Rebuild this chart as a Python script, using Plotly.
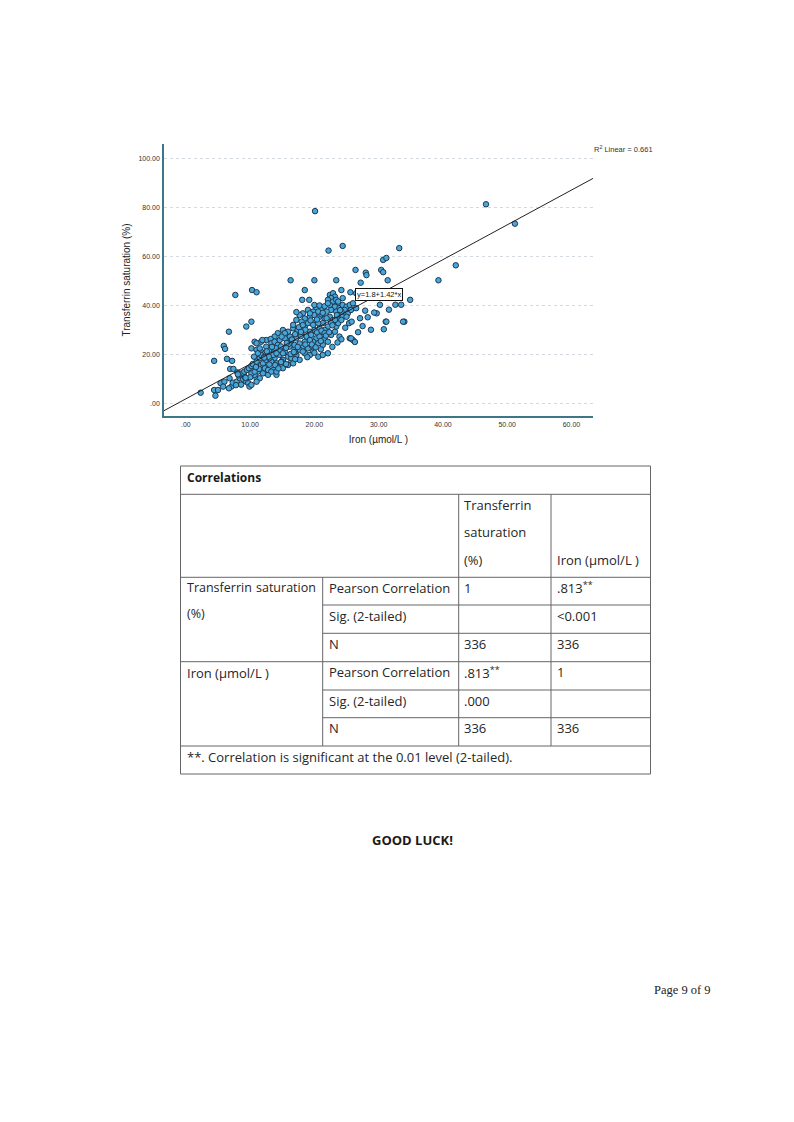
import plotly.graph_objects as go

# scatter data read from the page: iron (umol/L) vs transferrin saturation (%)
iron = [
    20.1, 22.2, 24.4, 33.2, 7.7, 10.3, 11.0, 16.3, 20.0, 18.5, 23.4, 24.2, 26.4, 28.0, 28.1,
    27.2, 25.6, 30.4, 30.7, 30.7, 31.2, 31.4, 46.7, 51.2, 42.0, 39.3, 34.9, 32.6, 33.5, 31.6,
    31.1, 30.8, 34.0, 30.2, 18.1, 19.2,
    22.4, 22.9, 23.2, 22.6, 22.1, 22.9, 23.4, 23.7, 22.4, 23.2, 23.9, 24.4, 25.0, 25.5, 24.7,
    24.2, 23.4, 22.6, 21.9, 21.1, 20.3, 19.8, 19.0, 18.2, 17.7, 18.5, 19.3, 20.0, 20.8, 21.6,
    22.4, 22.9, 23.7, 24.4, 25.2, 25.7, 26.5, 27.1, 28.3, 29.7,
    26.5, 23.7, 24.4, 26.0, 25.0, 25.4, 25.8, 23.9, 24.2, 25.5, 26.0,
    22.6, 23.2, 23.4, 23.7, 24.2, 23.2, 22.6, 22.1, 21.6,
    21.1, 20.6, 19.3, 20.3, 21.3, 20.8, 20.0, 19.3, 18.5,
    18.0, 18.8, 19.5, 20.3, 20.8, 21.6, 22.1, 21.3, 20.6, 19.8,
    15.1, 15.9, 16.7, 17.4, 14.3, 13.8, 14.6, 15.4, 16.2,
    18.2, 19.0, 19.8, 19.3, 18.5, 17.7, 16.9,
    15.4, 14.6, 13.8, 13.3, 14.1, 15.1, 15.9, 16.4,
    20.6, 21.3, 22.1,
    20.0, 20.8, 21.6, 22.1, 17.2, 17.2, 18.0, 16.7, 17.6, 18.2, 19.0, 19.8, 20.6, 21.9,
    10.2, 15.4, 14.9, 10.7, 11.7, 12.5, 13.2,
    16.4, 17.2, 17.9, 20.4, 21.1, 21.6, 20.8, 19.3, 18.5, 17.7, 16.9, 16.1,
    10.2, 11.0, 11.7, 12.3, 13.0, 13.8, 14.6, 15.1, 18.2,
    16.4, 17.2, 17.7, 14.9,
    11.0, 11.7, 12.5, 10.4, 11.2, 12.0, 12.8, 13.6, 14.3, 15.1, 15.9, 16.7,
    14.1, 11.0, 10.7, 10.2,
    5.9, 6.1, 4.4, 6.4, 7.2, 6.9, 7.4, 2.3, 4.4, 5.0, 4.6, 5.4, 6.0, 5.8, 7.1, 7.3, 7.9,
    8.4, 8.9, 9.1, 9.4, 9.7, 8.7, 9.1, 9.5, 9.8, 10.2, 10.4, 10.7,
    11.0, 11.5, 11.7, 11.2, 12.0, 12.5, 13.0, 13.6, 14.1, 12.3, 12.8, 13.3, 14.1,
    11.5, 11.0, 9.9, 10.2, 12.5, 13.3, 13.8, 14.3, 11.9, 11.0, 11.5,
    6.7, 9.4, 6.8, 6.7,
    31.2, 33.8, 25.7, 26.3, 27.5, 28.8, 29.3, 27.9, 26.8, 24.8,
    19.6, 21.0, 22.8, 23.6, 17.0, 16.0, 15.6, 13.0, 12.2, 8.2, 9.2, 8.0, 10.6,
    12.9, 13.9, 14.8, 15.6, 16.3, 17.0, 17.4, 18.6, 19.6, 20.2, 21.0, 21.8, 22.3, 22.8,
    23.5, 24.0, 21.3, 20.4, 19.4, 18.6, 17.9, 17.0, 16.5, 15.7, 14.8, 14.0, 13.4, 12.6,
    12.2, 11.4, 10.9, 10.0, 9.3, 8.6, 7.8, 8.1, 16.8, 18.9, 20.0, 14.4,
]
tsat = [
    78.4, 62.3, 64.2, 63.3, 44.2, 46.2, 45.3, 50.2, 50.2, 46.2, 50.2, 46.2, 54.4, 53.3, 52.3,
    49.2, 45.3, 54.4, 53.5, 58.5, 59.3, 50.2, 81.2, 73.3, 56.3, 50.2, 42.2, 40.2, 40.2, 38.2,
    33.3, 30.2, 33.3, 40.2, 42.2, 42.2,
    44.2, 44.9, 43.5, 42.9, 42.2, 41.5, 42.2, 40.8, 40.1, 39.4, 38.8, 40.1, 39.4, 40.1, 38.1,
    37.4, 37.4, 38.1, 37.4, 38.1, 38.8, 37.4, 38.1, 36.7, 36.0, 34.6, 35.3, 36.0, 35.3, 34.6,
    35.3, 34.0, 34.6, 35.3, 36.7, 38.1, 38.8, 34.7, 35.1, 36.7,
    44.9, 41.5, 42.9, 40.8, 35.3, 32.7, 33.3, 27.2, 26.1, 26.5, 25.8,
    27.9, 29.2, 31.3, 32.7, 34.0, 34.0, 32.7, 31.3, 29.9,
    36.3, 37.4, 36.7, 33.3, 32.7, 30.6, 29.9, 29.2, 31.3,
    28.6, 27.2, 27.9, 26.5, 28.6, 26.5, 25.1, 23.8, 24.5, 25.1,
    29.9, 29.2, 30.6, 29.9, 28.6, 27.2, 25.8, 26.5, 27.2,
    23.1, 22.4, 21.1, 19.7, 20.4, 21.8, 22.4,
    21.1, 19.7, 18.4, 17.0, 16.3, 17.7, 19.0, 17.0,
    19.0, 19.7, 20.4,
    40.1, 39.9, 39.6, 40.8, 37.2, 34.0, 33.3, 32.0, 31.0, 31.9, 32.7, 32.0, 32.7, 34.7,
    33.3, 28.6, 27.2, 25.1, 25.1, 25.8, 26.2,
    25.8, 26.5, 27.4, 28.9, 29.6, 28.6, 27.2, 25.8, 25.1, 24.4, 23.8, 23.1,
    22.4, 21.8, 21.1, 20.4, 21.8, 21.1, 21.8, 20.4, 21.1,
    18.4, 19.7, 17.7, 17.0,
    16.3, 15.6, 14.9, 13.6, 12.9, 12.2, 11.6, 13.6, 14.9, 14.3, 15.6, 16.3,
    11.6, 10.2, 11.6, 12.2,
    23.4, 22.2, 17.3, 18.1, 17.3, 14.0, 14.0, 4.3, 5.4, 5.4, 3.1, 8.2, 8.8, 6.8, 6.8, 8.4, 8.8,
    10.2, 9.8, 11.1, 8.8, 8.2, 12.2, 12.9, 13.6, 14.3, 15.2, 16.0, 12.9,
    17.0, 18.4, 19.7, 20.4, 16.3, 17.7, 18.4, 19.7, 20.4, 14.3, 13.6, 12.9, 12.9,
    10.2, 8.8, 6.8, 7.5, 23.1, 24.5, 25.1, 23.8, 25.8, 24.5, 22.4,
    29.2, 31.3, 10.2, 6.1,
    33.3, 33.3, 26.5, 25.0, 31.5, 30.0, 37.0, 37.8, 29.0, 30.8,
    23.5, 22.0, 23.0, 24.8, 20.8, 24.2, 22.6, 15.8, 18.9, 11.4, 10.6, 12.6, 19.0,
    19.0, 15.6, 16.8, 16.0, 20.1, 18.0, 23.0, 24.0, 24.0, 22.8, 25.4, 27.6, 29.0, 31.8,
    36.0, 38.0, 36.9, 34.2, 33.8, 30.0, 29.1, 28.2, 26.0, 24.6, 23.2, 22.5, 23.0, 21.2,
    18.6, 14.0, 14.8, 10.6, 10.4, 7.6, 7.4, 11.8, 20.9, 18.8, 20.6, 14.2,
]

# fit line from the chart
intercept = 1.8
slope = 1.42
x_range = [-3.4, 63.35]
y_range = [-5.2, 105.8]

x_ticks = [0, 10, 20, 30, 40, 50, 60]
x_tick_labels = [".00", "10.00", "20.00", "30.00", "40.00", "50.00", "60.00"]
y_ticks = [0, 20, 40, 60, 80, 100]
y_tick_labels = [".00", "20.00", "40.00", "60.00", "80.00", "100.00"]

# correlations table
table_title = "Correlations"
head_tsat = ["Transferrin", "saturation", "(%)"]
head_iron = "Iron (µmol/L )"
row_groups = [["Transferrin", "saturation", "(%)"], ["Iron (µmol/L )"]]
stat_labels = ["Pearson Correlation", "Sig. (2-tailed)", "N"]
col_tsat = ["1", "", "336", ".813<sup>**</sup>", ".000", "336"]
col_iron = [".813<sup>**</sup>", "<0.001", "336", "1", "", "336"]
footnote = "**. Correlation is significant at the 0.01 level (2-tailed)."

# the page body has an 8px margin, so the figure is a bit smaller and shifted
OFF = 8
W, H = 794 - OFF, 1122 - 2 * OFF


def px(x):
    return (x - OFF) / W


def py(y):
    return 1 - (y - OFF) / H


fig = go.Figure()

fig.add_trace(go.Scatter(
    x=iron, y=tsat, mode="markers",
    marker=dict(size=5.5, color="#49a6d9", line=dict(color="#1d3850", width=1)),
    showlegend=False, hoverinfo="x+y",
))
fig.add_trace(go.Scatter(
    x=x_range, y=[intercept + slope * v for v in x_range], mode="lines",
    line=dict(color="#222222", width=1), showlegend=False, hoverinfo="skip",
))

axis_font = dict(family="Liberation Sans, Arial", size=7, color="#333333")
fig.update_xaxes(
    domain=[px(164), px(593)], range=x_range, tickvals=x_ticks, ticktext=x_tick_labels,
    showgrid=False, zeroline=False, showline=True, linecolor="#3c7688", linewidth=1.5,
    ticks="", tickfont=axis_font, ticklabelstandoff=1,
    title=dict(text="Iron (µmol/L )", font=dict(family="Liberation Sans, Arial", size=10, color="#222"),
               standoff=9),
)
fig.update_yaxes(
    domain=[py(416), py(144)], range=y_range, tickvals=y_ticks, ticktext=y_tick_labels,
    showgrid=True, gridcolor="#d3d9df", griddash="dot", gridwidth=1, zeroline=False,
    showline=True, linecolor="#3c7688", linewidth=1.5, ticks="", tickfont=axis_font,
    ticklabelstandoff=1,
    title=dict(text="Transferrin saturation (%)",
               font=dict(family="Liberation Sans, Arial", size=10, color="#222"), standoff=6),
)

ann = []
ann.append(dict(x=30.1, y=44.5, xref="x", yref="y", text="y=1.8+1.42*x", showarrow=False,
                font=dict(family="Liberation Sans, Arial", size=7.5, color="#111"),
                bgcolor="white", bordercolor="#111", borderwidth=1, borderpad=1))
ann.append(dict(x=px(655), y=py(149), xref="paper", yref="paper", xanchor="right",
                yanchor="middle", text="R<sup>2</sup> Linear = 0.661", showarrow=False,
                font=dict(family="Liberation Sans, Arial", size=7.5, color="#333")))

# table grid
L, R, T, B = 180.5, 650.5, 466, 774
c1, c2, c3 = 322.7, 458.7, 551
row_lines = [577.3, 605, 633.3, 661.7, 690, 717.7, 746]
line = dict(color="#666666", width=1)
shapes = [dict(type="rect", xref="paper", yref="paper", x0=px(L), x1=px(R), y0=py(B), y1=py(T),
               line=line)]


def hline(y, x0, x1):
    shapes.append(dict(type="line", xref="paper", yref="paper", x0=px(x0), x1=px(x1),
                       y0=py(y), y1=py(y), line=line))


def vline(x, y0, y1):
    shapes.append(dict(type="line", xref="paper", yref="paper", x0=px(x), x1=px(x),
                       y0=py(y0), y1=py(y1), line=line))


hline(494.3, L, R)
for i, y in enumerate(row_lines):
    full = i in (0, 3, 6)
    hline(y, L if full else c1, R)
vline(c2, 494.3, 746)
vline(c3, 494.3, 746)
vline(c1, 577.3, 746)

tfont = dict(family="Open Sans, Noto Sans", size=13, color="#262626")
lfont = dict(family="Open Sans, Noto Sans", size=12.5, color="#262626")


def txt(x, y, s, anchor="left", font=tfont):
    ann.append(dict(x=px(x), y=py(y), xref="paper", yref="paper", xanchor=anchor,
                    yanchor="middle", text=s, showarrow=False, font=font))


txt(185, 477, "<b>" + table_title + "</b>",
    font=dict(family="Open Sans, Noto Sans", size=12, color="#1a1a1a"))
for i, s in enumerate(head_tsat):
    txt(462, 504.5 + i * 27.5, s)
txt(555, 559.5, head_iron)

# row group labels
txt(185, 587.5, row_groups[0][0], font=lfont)
txt(318, 587.5, row_groups[0][1], anchor="right", font=lfont)
txt(185, 613, row_groups[0][2], font=lfont)
txt(185, 672.5, row_groups[1][0])

for i in range(6):
    top = row_lines[i]
    yc = top + 10.5
    txt(327, yc, stat_labels[i % 3])
    if col_tsat[i]:
        txt(462, yc, col_tsat[i])
    if col_iron[i]:
        txt(555, yc, col_iron[i])
txt(185, 756.5, footnote)

txt(412, 840, "<b>GOOD LUCK!</b>", anchor="center",
    font=dict(family="Open Sans, Noto Sans", size=13, color="#1a1a1a"))
txt(713, 989.5, "Page 9 of 9", anchor="right",
    font=dict(family="Liberation Serif, Times New Roman", size=12.5, color="#222"))

fig.update_layout(
    width=W, height=H, margin=dict(l=0, r=0, t=0, b=0),
    paper_bgcolor="white", plot_bgcolor="white",
    annotations=ann, shapes=shapes,
)

fig.write_html("out.html")
